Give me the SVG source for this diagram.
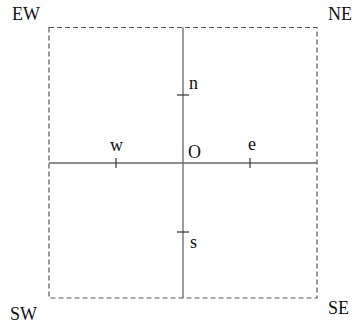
<svg xmlns="http://www.w3.org/2000/svg" width="352" height="323" viewBox="0 0 352 323">
<style>
.lbl{font-family:"Liberation Serif",serif;font-size:18px;fill:#111}
.axis{stroke:#666;stroke-width:1.3;fill:none}
.tick{stroke:#333;stroke-width:1.2}
.box{stroke:#555;stroke-width:1.2;fill:none;stroke-dasharray:5,3}
</style>
<rect width="352" height="323" fill="#fff"/>
<g id="frame"><rect class="box" x="49" y="27.5" width="268" height="270.5"/></g>
<g id="connectors">
<line class="axis" x1="183" y1="27.5" x2="183" y2="298"/>
<line class="axis" x1="49" y1="163" x2="317" y2="163"/>
<line class="tick" x1="177" y1="95" x2="189" y2="95"/>
<line class="tick" x1="177" y1="232" x2="189" y2="232"/>
<line class="tick" x1="116" y1="158" x2="116" y2="168"/>
<line class="tick" x1="250" y1="158" x2="250" y2="168"/>
</g>
<g id="EW"><text class="lbl" x="12" y="20">EW</text></g>
<g id="NE"><text class="lbl" x="328" y="20">NE</text></g>
<g id="SW"><text class="lbl" x="10" y="320">SW</text></g>
<g id="SE"><text class="lbl" x="328" y="314">SE</text></g>
<g id="n"><text class="lbl" x="189" y="89">n</text></g>
<g id="w"><text class="lbl" x="110" y="151">w</text></g>
<g id="O"><text class="lbl" x="188" y="158">O</text></g>
<g id="e"><text class="lbl" x="248" y="150">e</text></g>
<g id="s"><text class="lbl" x="190" y="248">s</text></g>
</svg>
